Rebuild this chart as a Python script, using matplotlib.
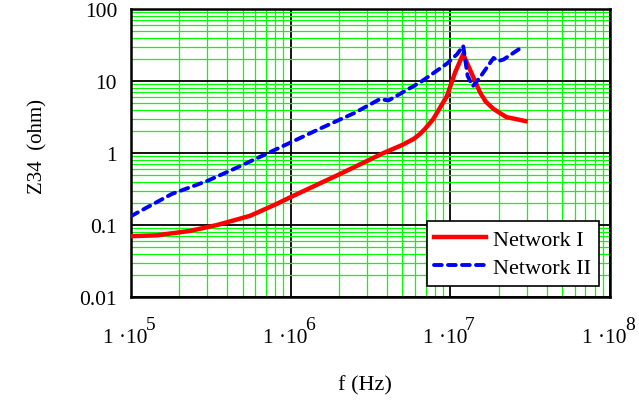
import numpy as np
import matplotlib
matplotlib.use("Agg")
import matplotlib.pyplot as plt
from matplotlib.ticker import FixedLocator, LogLocator, NullFormatter
from matplotlib.transforms import ScaledTranslation

plt.rcParams["font.family"] = ["Liberation Serif", "DejaVu Serif"]

# Network I (red, solid)
f1 = [1e5, 1.45e5, 2.35e5, 3.45e5, 5.55e5, 8.1e5, 1e6, 1.95e6, 3.8e6,
      5.0e6, 5.9e6, 6.4e6, 6.9e6, 7.8e6, 9.5e6, 1.07e7, 1.2e7, 1.32e7,
      1.53e7, 1.66e7, 1.86e7, 2.24e7, 2.95e7]
z1 = [0.070, 0.072, 0.083, 0.10, 0.134, 0.195, 0.245, 0.49, 1.0,
      1.3, 1.58, 1.82, 2.15, 2.97, 6.2, 13.3, 23.7, 14.7,
      7.0, 5.2, 4.1, 3.16, 2.78]

# Network II (blue, dashed)
f2 = [1e5, 1.8e5, 3e5, 4.4e5, 7e5, 9e5, 1.5e6, 2.5e6, 3.6e6, 4.1e6, 6.5e6,
      9.5e6, 1.1e7, 1.2e7, 1.28e7, 1.38e7, 1.53e7, 1.86e7, 2.0e7, 2.15e7, 2.8e7]
z2 = [0.133, 0.27, 0.41, 0.60, 0.97, 1.26, 2.15, 3.6, 5.6, 5.4, 9.7,
      17.5, 23.7, 31, 11.8, 8.5, 11.3, 21, 19, 20, 29.6]

xticks = [1e5, 1e6, 1e7, 1e8]
xexps = ["5", "6", "7", "8"]
yticks = [0.01, 0.1, 1, 10, 100]
ylabels = ["0.01", "0.1", "1", "10", "100"]

fig = plt.figure(figsize=(6.39, 4.06), dpi=100)
ax = fig.add_axes([0.205, 0.266, 0.75, 0.709])

ax.set_xscale("log")
ax.set_yscale("log")
ax.set_xlim(1e5, 1e8)
ax.set_ylim(0.01, 100)

ax.plot(f1, z1, color="#ff0000", lw=3.2, label="Network I", zorder=4)
ax.plot(f2, z2, color="#0000ff", lw=2.8, dashes=(2.0, 1.6),
        dash_capstyle="round", label="Network II", zorder=4)

ax.xaxis.set_major_locator(FixedLocator(xticks))
ax.set_xticklabels(["1 \u00b710"] * len(xticks))
ax.yaxis.set_major_locator(FixedLocator(yticks))
ax.set_yticklabels(ylabels)
ax.xaxis.set_minor_locator(LogLocator(base=10, subs=np.arange(2, 10)))
ax.yaxis.set_minor_locator(LogLocator(base=10, subs=np.arange(2, 10)))
ax.xaxis.set_minor_formatter(NullFormatter())
ax.yaxis.set_minor_formatter(NullFormatter())

ax.grid(which="minor", color="#00ff00", lw=0.9, zorder=1)
ax.grid(which="major", color="black", lw=1.3, zorder=2)
ax.set_axisbelow(True)

ax.tick_params(which="both", length=0, labelsize=15.5)
ax.tick_params(axis="x", pad=22)
ax.tick_params(axis="y", pad=10)
shift = ScaledTranslation(-4 / 72, 0, fig.dpi_scale_trans)
for lab in ax.get_xticklabels():
    lab.set_transform(lab.get_transform() + shift)

# exponents of the x tick labels
for t, e in zip(xticks, xexps):
    ax.annotate(e, xy=(t, 0), xycoords=("data", "axes fraction"),
                xytext=(10.5, -13.5), textcoords="offset points",
                ha="left", va="top", fontsize=14, annotation_clip=False)

for s in ax.spines.values():
    s.set_linewidth(1.8)
    s.set_color("black")

ax.set_xlabel("f (Hz)", fontsize=16)
ax.xaxis.set_label_coords(0.4885, -0.272)
ax.set_ylabel("Z34  (ohm)", fontsize=15)
ax.yaxis.set_label_coords(-0.175, 0.525)

leg = ax.legend(loc="lower right", fontsize=16, fancybox=False, framealpha=1,
                edgecolor="black", handlelength=2.3, borderaxespad=0.5,
                borderpad=0.35, labelspacing=0.35, handletextpad=0.35)
leg.get_frame().set_linewidth(1.2)

fig.savefig("out.png", dpi=100)
plt.close(fig)
